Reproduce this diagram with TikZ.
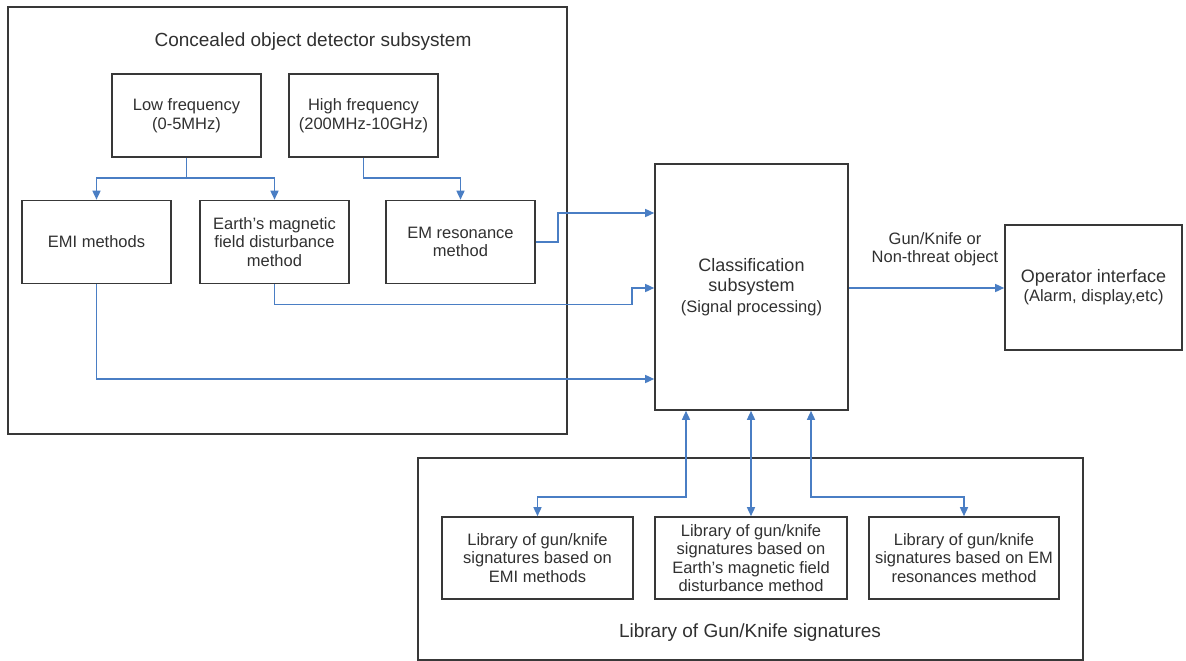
\documentclass[tikz,border=0pt]{standalone}
\usepackage{fontspec}
\setmainfont{Liberation Sans}
\usetikzlibrary{arrows.meta,calc}
\definecolor{boxc}{HTML}{383838}
\definecolor{txtc}{HTML}{303030}
\definecolor{arrc}{HTML}{4A7EC4}
\tikzset{
  box/.style={draw=boxc,line width=1.6pt,text=txtc,align=center,inner sep=0pt,font=\fontsize{16.5}{18.5}\selectfont},
  bigbox/.style={draw=boxc,line width=1.6pt},
  arr/.style={draw=arrc,line width=1.5pt,-{Triangle[length=9pt,width=8pt]}},
  darr/.style={draw=arrc,line width=1.5pt,{Triangle[length=9pt,width=8pt]}-{Triangle[length=9pt,width=8pt]}},
  ttl/.style={text=txtc,font=\fontsize{19}{22}\selectfont},
  lbl/.style={text=txtc,align=center,font=\fontsize{16.5}{18}\selectfont}
}
\begin{document}
\begin{tikzpicture}[x=1pt,y=-1pt]
\useasboundingbox (0,0) rectangle (1186,661);
% outer groups
\draw[bigbox] (8,7) rectangle (567,434);
\draw[bigbox] (418,458) -- (418,660) -- (1083,660) -- (1083,458) -- cycle;
\node[ttl] (t1) at (313,42) {Concealed object detector subsystem};
\node[ttl] (t2) at (750,633) {Library of Gun/Knife signatures};
% boxes
\node[box,minimum width=149pt,minimum height=83pt] (lowf) at (186.5,115.5) {Low frequency\\(0-5MHz)};
\node[box,minimum width=149pt,minimum height=83pt] (highf) at (363.5,115.5) {High frequency\\(200MHz-10GHz)};
\node[box,minimum width=149pt,minimum height=83pt] (emi) at (96.5,242) {EMI methods};
\node[box,minimum width=149pt,minimum height=83pt] (earth) at (274.5,242) {Earth's magnetic\\field disturbance\\method};
\node[box,minimum width=149pt,minimum height=83pt] (emres) at (460.5,242) {EM resonance\\method};
\node[box,minimum width=193pt,minimum height=246pt,font=\fontsize{18}{20.5}\selectfont] (class) at (751.5,287) {Classification\\subsystem\\{\fontsize{16.5}{20}\selectfont(Signal processing)}};
\node[box,minimum width=177pt,minimum height=125pt,font=\fontsize{18}{19}\selectfont] (oper) at (1093.5,287.5) {Operator interface\\{\fontsize{16.5}{19}\selectfont(Alarm, display,etc)}};
\node[box,minimum width=191pt,minimum height=82pt] (lib1) at (537.5,558) {Library of gun/knife\\signatures based on\\EMI methods};
\node[box,minimum width=192pt,minimum height=82pt] (lib2) at (751,558) {Library of gun/knife\\signatures based on\\Earth's magnetic field\\disturbance method};
\node[box,minimum width=190pt,minimum height=82pt] (lib3) at (964,558) {Library of gun/knife\\signatures based on EM\\resonances method};
\node[lbl] (glab) at (935,249) {Gun/Knife or\\Non-threat object};
% connectors
\draw[arr] (lowf.south) -- ++(0,20) -| (emi.north);
\draw[arr] (lowf.south) -- ++(0,20) -| (earth.north);
\draw[arr] (highf.south) -- ++(0,20) -| (emres.north);
\draw[arr] (emres.east) -- ++(22,0) |- ($(class.west)+(0,-74)$);
\draw[arr] (earth.south) -- ++(0,20) -| ($(class.west)+(-22,1)$) -- ($(class.west)+(0,1)$);
\draw[arr] (emi.south) |- ($(class.west)+(0,92)$);
\draw[arr] ($(class.east)+(0,1)$) -- ($(oper.west)+(0,0.5)$);
\coordinate (j1) at (686,497);
\coordinate (j3) at (811,497);
\draw[darr] (class.south -| j1) |- (j1) -| (lib1.north);
\draw[darr] (class.south -| lib2.north) -- (lib2.north);
\draw[darr] (class.south -| j3) |- (j3) -| (lib3.north);
\end{tikzpicture}
\end{document}
